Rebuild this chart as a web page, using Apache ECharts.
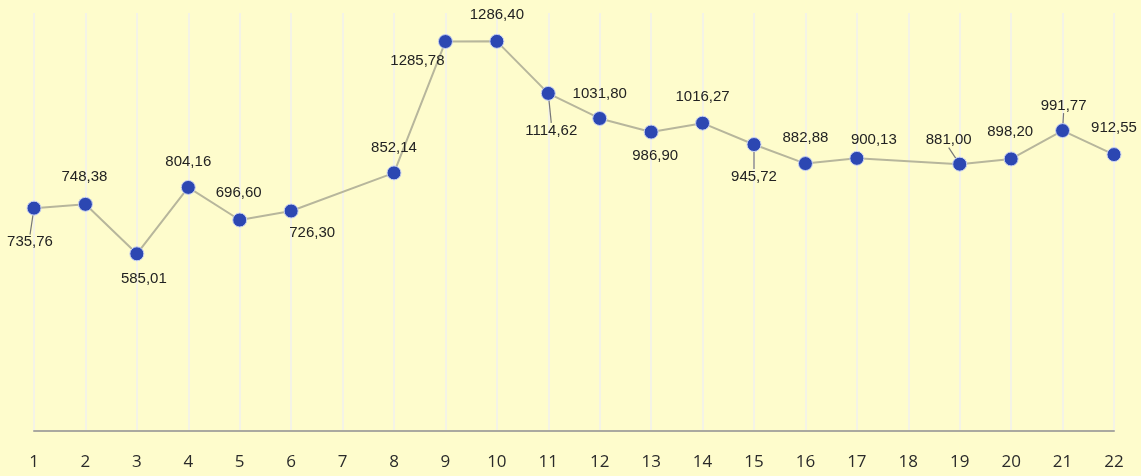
<!DOCTYPE html>
<html>
<head>
<meta charset="utf-8">
<script src="https://cdn.jsdelivr.net/npm/echarts@6/dist/echarts.min.js"></script>
<style>
html,body{margin:0;padding:0;background:#fefccc;}
#c{width:1141px;height:476px;}
</style>
</head>
<body>
<div id="c"></div>
<script>
var categories = ['1','2','3','4','5','6','7','8','9','10','11','12','13','14','15','16','17','18','19','20','21','22'];
var values = [735.76, 748.38, 585.01, 804.16, 696.60, 726.30, null, 852.14, 1285.78, 1286.40, 1114.62, 1031.80, 986.90, 1016.27, 945.72, 882.88, 900.13, null, 881.00, 898.20, 991.77, 912.55];
// label placement relative to marker centre (style only)
var labelOffsets = [[-4,34],[-1,-27],[7,25],[0,-26],[-1,-27],[21,22],[0,0],[0,-25],[-28,19],[0,-26],[3,37],[0,-25],[4,24],[0,-26],[0,32],[0,-26],[17,-18],[0,0],[-11,-24],[-1,-27],[1,-25],[0,-27]];
var leaderIdx = [0,10,14,18,20];

function fmt(v){ return v.toFixed(2).replace('.', ','); }

var seriesData = values.map(function(v, i){
  if (v === null) return '-';
  var item = {value: v};
  if (leaderIdx.indexOf(i) >= 0) {
    item.labelLine = {show: true, lineStyle: {color: '#777', width: 1.2}};
  }
  return item;
});

var chart = echarts.init(document.getElementById('c'), null, {renderer: 'canvas'});
chart.setOption({
  backgroundColor: '#fefccc',
  animation: false,
  grid: {left: 34, right: 27, top: 13, bottom: 45},
  xAxis: {
    type: 'category',
    data: categories,
    boundaryGap: false,
    axisLine: {show: true, lineStyle: {color: '#aaa9a0', width: 2}},
    axisTick: {show: false},
    axisLabel: {color: '#2a2a2a', fontSize: 17, fontFamily: 'Open Sans', margin: 23},
    splitLine: {show: true, lineStyle: {color: '#f4f3e6', width: 2}}
  },
  yAxis: {
    type: 'value', min: 0, max: 1380, show: false,
    splitLine: {show: false}
  },
  series: [{
    type: 'line',
    data: seriesData,
    connectNulls: true,
    symbol: 'circle',
    symbolSize: 14,
    lineStyle: {color: '#b7b69c', width: 2},
    itemStyle: {color: '#2c47b2', borderColor: '#c9d2f2', borderWidth: 1},
    label: {
      show: true,
      position: 'inside',
      color: '#222',
      fontSize: 15,
      fontFamily: 'Liberation Sans',
      formatter: function(p){ return fmt(p.value); }
    },
    labelLayout: function(p){
      var o = labelOffsets[p.dataIndex] || [0,0];
      return {dx: o[0], dy: o[1]};
    },
    z: 3
  }]
});
</script>
</body>
</html>
